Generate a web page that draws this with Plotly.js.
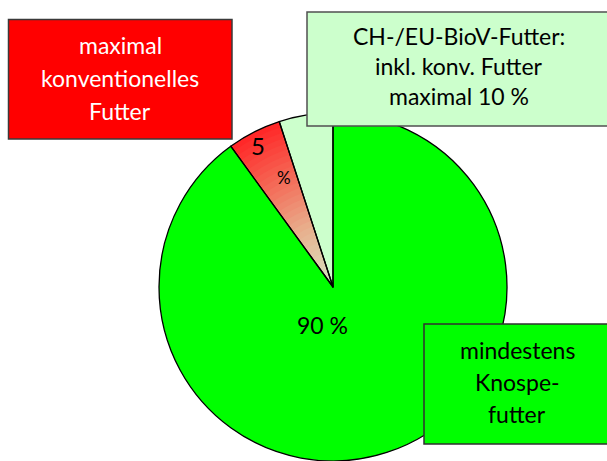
<!DOCTYPE html>
<html><head><meta charset="utf-8">
<script src="https://cdn.plot.ly/plotly-3.0.1.min.js"></script>
<style>html,body{margin:0;padding:0;background:#fff}#chart{width:607px;height:461px}</style>
</head><body><div id="chart"></div>
<script>
// ---- data ----
const categories = ['mindestens Knospefutter', 'maximal konventionelles Futter', 'übriges CH-/EU-BioV-Futter'];
const values = [90, 5, 5];
const sliceColors = ['#00ff00', '#ff2a2a', '#ccffcc'];
const sliceTextMain = '90 %';
const sliceTextSmall = ['5', '%'];
const redBoxLines = ['maximal', 'konventionelles', 'Futter'];
const bioBoxLines = ['CH-/EU-BioV-Futter:', 'inkl. konv. Futter', 'maximal 10 %'];
const knospeBoxLines = ['mindestens', 'Knospe-', 'futter'];

// ---- layout helpers ----
const W = 607, H = 461;
const cx = 333, cy = 287, R = 174;
const FONT = 'Lato, "Open Sans", sans-serif';
const px = x => x / W;
const py = y => 1 - y / H;
function dom(r) { return {x: [px(cx - r), px(cx + r)], y: [py(cy + r), py(cy - r)]}; }

// gradient stops for the small red slice (outer -> centre)
const stops = [[0, [255, 40, 40]], [0.36, [242, 118, 96]], [0.62, [232, 176, 142]], [1, [212, 232, 200]]];
function gradColor(t) {
  for (let i = 0; i < stops.length - 1; i++) {
    const [t0, c0] = stops[i], [t1, c1] = stops[i + 1];
    if (t >= t0 && t <= t1) {
      const f = (t - t0) / (t1 - t0);
      const c = c0.map((v, j) => Math.round(v + (c1[j] - v) * f));
      return 'rgb(' + c.join(',') + ')';
    }
  }
  return 'rgb(212,232,200)';
}

const base = {
  type: 'pie', labels: categories, values: values, sort: false,
  direction: 'clockwise', rotation: 0, textinfo: 'none', hoverinfo: 'skip',
  showlegend: false
};

const traces = [];
traces.push(Object.assign({}, base, {
  domain: dom(R),
  marker: {colors: [sliceColors[0], gradColor(0), sliceColors[2]], line: {width: 0}}
}));
const N = 30;
for (let k = 1; k < N; k++) {
  const t = k / N;
  traces.push(Object.assign({}, base, {
    domain: dom(R * (1 - t)),
    marker: {colors: ['rgba(0,0,0,0)', gradColor(t), 'rgba(0,0,0,0)'], line: {width: 0}}
  }));
}
traces.push(Object.assign({}, base, {
  domain: dom(R),
  marker: {colors: ['rgba(0,0,0,0)', 'rgba(0,0,0,0)', 'rgba(0,0,0,0)'], line: {color: '#000', width: 1.3}}
}));

const shapes = [
  {type: 'rect', xref: 'paper', yref: 'paper', x0: px(8.5), x1: px(232), y0: py(139), y1: py(19.5),
   fillcolor: '#ff0000', line: {color: '#3a3a3a', width: 1.5}, layer: 'above'},
  {type: 'rect', xref: 'paper', yref: 'paper', x0: px(307), x1: px(625), y0: py(126), y1: py(12),
   fillcolor: '#ccffcc', line: {color: '#505050', width: 1.5}, layer: 'above'},
  {type: 'rect', xref: 'paper', yref: 'paper', x0: px(424), x1: px(625), y0: py(444), y1: py(324),
   fillcolor: '#00ff00', line: {color: '#303030', width: 1.5}, layer: 'above'}
];

const annotations = [];
function addLines(lines, x, yFirst, step, color, size) {
  lines.forEach((t, i) => annotations.push({
    text: t, xref: 'paper', yref: 'paper', x: px(x), y: py(yFirst + i * step),
    xanchor: 'center', yanchor: 'middle', showarrow: false,
    font: {family: FONT, size: size, color: color}
  }));
}
addLines(redBoxLines, 120, 45, 33, '#ffffff', 23);
addLines(bioBoxLines, 459, 36, 30, '#000000', 23);
addLines(knospeBoxLines, 517, 350, 32, '#000000', 23);
addLines([sliceTextMain], 322, 325, 0, '#000000', 23);
addLines([sliceTextSmall[0]], 258, 146, 0, '#000000', 24);
addLines([sliceTextSmall[1]], 284, 177, 0, '#000000', 17);

Plotly.newPlot('chart', traces, {
  width: W, height: H, margin: {l: 0, r: 0, t: 0, b: 0},
  paper_bgcolor: '#ffffff', plot_bgcolor: '#ffffff',
  shapes: shapes, annotations: annotations, showlegend: false
}, {staticPlot: true});
</script>
</body></html>
